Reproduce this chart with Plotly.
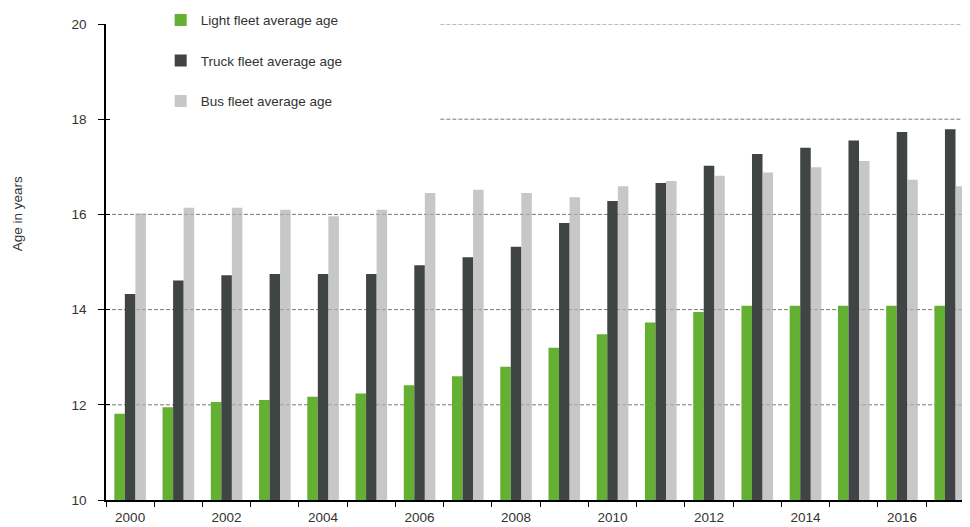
import plotly.graph_objects as go

years = [str(y) for y in range(2000, 2018)]
tick_labels = [y if int(y) % 2 == 0 else "" for y in years]

light = [11.81, 11.95, 12.06, 12.10, 12.17, 12.24, 12.41, 12.60, 12.80,
         13.20, 13.48, 13.73, 13.95, 14.08, 14.08, 14.08, 14.08, 14.08]
truck = [14.33, 14.61, 14.72, 14.75, 14.75, 14.75, 14.93, 15.10, 15.32,
         15.82, 16.28, 16.66, 17.02, 17.27, 17.40, 17.55, 17.73, 17.79]
bus = [16.02, 16.14, 16.14, 16.10, 15.96, 16.10, 16.45, 16.52, 16.45,
       16.36, 16.59, 16.70, 16.81, 16.88, 16.99, 17.12, 16.73, 16.59]

series_names = ["Light fleet average age", "Truck fleet average age", "Bus fleet average age"]
colors = ["#64b032", "#414445", "rgba(178,178,178,0.72)"]

grid_full = [12, 14, 16]      # gridlines spanning the whole plot
grid_partial = [18, 20]       # gridlines starting right of the legend

FONT = "Liberation Sans, Arial, sans-serif"
TXT = "#333333"

fig = go.Figure()
for name, vals, col in zip(series_names, [light, truck, bus], colors):
    fig.add_trace(go.Bar(x=years, y=vals, name=name, marker_color=col,
                         marker_line_width=0, legendgroup=name))

# invisible trace to activate yaxis2 (inside tick marks)
fig.add_trace(go.Scatter(x=[years[0]], y=[10], yaxis="y2", mode="markers",
                         marker=dict(opacity=0), showlegend=False,
                         hoverinfo="skip"))

shapes = []
for g in grid_full:
    shapes.append(dict(type="line", xref="paper", yref="y", x0=0, x1=1,
                       y0=g, y1=g, layer="below",
                       line=dict(color="#7a7a7a", width=1, dash="4px,2px")))
for g in grid_partial:
    shapes.append(dict(type="line", xref="paper", yref="y", x0=0.387, x1=1,
                       y0=g, y1=g, layer="below",
                       line=dict(color="#7a7a7a", width=1, dash="4px,2px")))

fig.update_layout(
    width=962, height=519,
    margin=dict(l=98, r=0, t=16, b=26.5, autoexpand=False),
    plot_bgcolor="white", paper_bgcolor="white",
    barmode="group", bargap=0.345, bargroupgap=0,
    font=dict(family=FONT, size=13.5, color=TXT),
    legend=dict(x=0.0633, y=1.0405, xanchor="left", yanchor="top",
                bgcolor="rgba(0,0,0,0)", traceorder="grouped",
                tracegroupgap=20, font=dict(size=13.5, color=TXT),
                itemwidth=30),
    xaxis=dict(type="category", range=[-0.5, 17.41],
               tickmode="array", tickvals=years, ticktext=tick_labels,
               tickson="boundaries", ticks="outside", ticklen=5,
               tickcolor="black", showline=True, linecolor="black",
               linewidth=1.5, showgrid=False, ticklabelstandoff=4,
               tickfont=dict(size=13.5, color=TXT)),
    yaxis=dict(range=[10, 20], dtick=2, ticks="outside", ticklen=6,
               tickcolor="black", showline=True, linecolor="black",
               linewidth=1.5, showgrid=False, zeroline=False,
               ticklabelstandoff=9,
               tickfont=dict(size=13.5, color=TXT)),
    yaxis2=dict(range=[10, 20], dtick=2, overlaying="y", side="left",
                ticks="inside", ticklen=4, tickcolor="black",
                showticklabels=False, showgrid=False, showline=False,
                zeroline=False),
    shapes=shapes,
    annotations=[dict(text="Age in years", xref="paper", yref="y",
                      x=-0.102, y=16.02, textangle=-90, showarrow=False,
                      xanchor="center", yanchor="middle",
                      font=dict(size=13.5, color=TXT))],
)

fig.write_html("out.html")
